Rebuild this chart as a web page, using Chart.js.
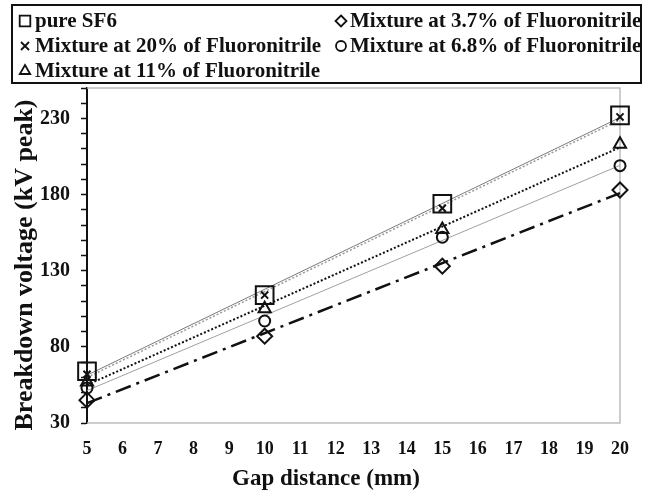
<!DOCTYPE html>
<html>
<head>
<meta charset="utf-8">
<script src="https://cdn.jsdelivr.net/npm/chart.js@4/dist/chart.umd.min.js"></script>
<style>
    html, body { margin: 0; padding: 0; background: #fff; }
    #wrap { width: 645px; height: 495px; }
</style>
</head>
<body>
<div id="wrap"><canvas id="breakdownChart" width="645" height="495"></canvas></div>
<script>
// Gap distances (mm)
const gaps = [5, 10, 15, 20];

// Breakdown voltage (kV peak) per gas
const pureSF6 = [64, 114, 174, 232];
const mix37 = [45, 87, 133, 183];
const mix20 = [62, 114, 171, 231];
const mix68 = [53, 97, 152, 199];
const mix11 = [57, 105, 157, 213];

// Axis ranges / ticks
const xMin = 5, xMax = 20;
const yMin = 30, yMax = 250;
const yLabelStep = 50;

const FONT = "'Liberation Serif', 'Times New Roman', serif";

// Series definitions -> legend order is column-wise (left col then right col)
const series = [
    { label: 'pure SF6', data: pureSF6, style: 'rect', radius: 12.5, legendRadius: 7.5,
      line: { color: '#7a7a7a', width: 1, dash: [] } },
    { label: 'Mixture at 20% of Fluoronitrile', data: mix20, style: 'crossRot', radius: 5, legendRadius: 4,
      line: { color: '#9a9a9a', width: 1.5, dash: [2, 2] } },
    { label: 'Mixture at 11% of Fluoronitrile', data: mix11, style: 'triangle', radius: 7, legendRadius: 6,
      line: { color: '#111', width: 2, dash: [2, 2] } },
    { label: 'Mixture at 3.7% of Fluoronitrile', data: mix37, style: 'rectRot', radius: 7.5, legendRadius: 5.5,
      line: { color: '#111', width: 2.5, dash: [16, 6, 3, 6] } },
    { label: 'Mixture at 6.8% of Fluoronitrile', data: mix68, style: 'circle', radius: 5.5, legendRadius: 5,
      line: { color: '#a0a0a0', width: 1, dash: [] } }
];

// Linear trendline (least squares) from a series, evaluated at the x range ends
const trendline = (xs, ys) => {
    const n = xs.length;
    const mx = xs.reduce((a, b) => a + b, 0) / n;
    const my = ys.reduce((a, b) => a + b, 0) / n;
    let sxy = 0, sxx = 0;
    for (let i = 0; i < n; i++) {
        sxy += (xs[i] - mx) * (ys[i] - my);
        sxx += (xs[i] - mx) * (xs[i] - mx);
    }
    const slope = sxy / sxx;
    const at = x => my + slope * (x - mx);
    return [{ x: xMin, y: at(xMin) }, { x: xMax, y: at(xMax) }];
}

const getDatasets = () => {
    let lines = [];
    let markers = [];

    series.forEach(s => {
        lines.push({
            label: s.label + ' (trend)',
            data: trendline(gaps, s.data),
            showLine: true,
            borderColor: s.line.color,
            borderWidth: s.line.width,
            borderDash: s.line.dash,
            pointRadius: 0,
            fill: false,
            clip: false,
            order: 2
        });

        markers.push({
            label: s.label,
            data: gaps.map((g, i) => ({ x: g, y: s.data[i] })),
            showLine: false,
            pointStyle: s.style,
            pointRadius: s.radius,
            pointHoverRadius: s.radius,
            pointBackgroundColor: 'rgba(0,0,0,0)',
            pointBorderColor: '#111',
            pointBorderWidth: 2,
            clip: false,
            order: 1
        });
    });

    return lines.concat(markers);
}

// Small hollow marker for the legend
const drawMarker = (ctx, style, r, x, y) => {
    ctx.beginPath();
    if (style === 'rect') {
        const h = r * Math.SQRT1_2;
        ctx.rect(x - h, y - h, 2 * h, 2 * h);
    } else if (style === 'rectRot') {
        ctx.moveTo(x, y - r);
        ctx.lineTo(x + r, y);
        ctx.lineTo(x, y + r);
        ctx.lineTo(x - r, y);
        ctx.closePath();
    } else if (style === 'circle') {
        ctx.arc(x, y, r, 0, Math.PI * 2);
    } else if (style === 'triangle') {
        ctx.moveTo(x, y - r);
        ctx.lineTo(x + r * 0.866, y + r * 0.5);
        ctx.lineTo(x - r * 0.866, y + r * 0.5);
        ctx.closePath();
    } else if (style === 'crossRot') {
        ctx.moveTo(x - r, y - r);
        ctx.lineTo(x + r, y + r);
        ctx.moveTo(x + r, y - r);
        ctx.lineTo(x - r, y + r);
    }
    ctx.stroke();
}

// Grey frame around the plot area (left side is the black y axis)
const plotFrame = {
    id: 'plotFrame',
    beforeDatasetsDraw(chart) {
        const { ctx, chartArea: a } = chart;
        ctx.save();
        ctx.strokeStyle = '#bdbdbd';
        ctx.lineWidth = 1.5;
        ctx.beginPath();
        ctx.moveTo(a.left, a.top);
        ctx.lineTo(a.right, a.top);
        ctx.lineTo(a.right, a.bottom);
        ctx.lineTo(a.left, a.bottom);
        ctx.stroke();
        ctx.restore();
    }
};

// Boxed legend in two columns plus axis titles
const boxLegend = {
    id: 'boxLegend',
    afterDraw(chart) {
        const ctx = chart.ctx;
        ctx.save();

        ctx.strokeStyle = '#111';
        ctx.lineWidth = 2;
        ctx.strokeRect(12, 5, 629, 78);

        const rows = [21, 46, 71];
        const cols = [{ m: 25, t: 35 }, { m: 341, t: 350 }];
        const slots = [[0, 0], [0, 1], [0, 2], [1, 0], [1, 1]];

        ctx.font = 'bold 21px ' + FONT;
        ctx.fillStyle = '#111';
        ctx.textBaseline = 'middle';
        ctx.textAlign = 'left';

        series.forEach((s, i) => {
            const [c, r] = slots[i];
            const y = rows[r];
            ctx.strokeStyle = '#111';
            ctx.lineWidth = 1.8;
            drawMarker(ctx, s.style, s.legendRadius, cols[c].m, y);
            ctx.fillText(s.label, cols[c].t, y + 1);
        });

        // Axis titles
        ctx.font = 'bold 23px ' + FONT;
        ctx.textAlign = 'center';
        ctx.fillText('Gap distance (mm)', 326, 479);

        ctx.translate(25, 265);
        ctx.rotate(-Math.PI / 2);
        ctx.font = 'bold 26px ' + FONT;
        ctx.fillText('Breakdown voltage (kV peak)', 0, 0);

        ctx.restore();
    }
};

const createBreakdownChart = () => {
    const ctx = document.getElementById('breakdownChart').getContext('2d');

    new Chart(ctx, {
        type: 'scatter',
        data: { datasets: getDatasets() },
        plugins: [plotFrame, boxLegend],
        options: {
            responsive: false,
            animation: false,
            devicePixelRatio: 1,
            layout: { padding: { top: 88, right: 15, left: 0, bottom: 0 } },
            plugins: {
                legend: { display: false },
                tooltip: { enabled: false },
                title: { display: false }
            },
            scales: {
                x: {
                    type: 'linear',
                    min: xMin,
                    max: xMax,
                    afterFit: scale => { scale.height = 72; },
                    ticks: {
                        stepSize: 1,
                        autoSkip: false,
                        maxRotation: 0,
                        padding: 16,
                        color: '#111',
                        font: { family: FONT, size: 18, weight: 'bold' }
                    },
                    grid: { display: false, drawTicks: false },
                    border: { display: false }
                },
                y: {
                    min: yMin,
                    max: yMax,
                    afterFit: scale => { scale.width = 87; },
                    ticks: {
                        stepSize: 10,
                        autoSkip: false,
                        padding: 11,
                        color: '#111',
                        font: { family: FONT, size: 20, weight: 'bold' },
                        callback: v => ((v - yMin) % yLabelStep === 0 && v <= 230) ? v : ''
                    },
                    grid: {
                        drawOnChartArea: false,
                        drawTicks: true,
                        tickLength: 6,
                        tickColor: '#111',
                        tickWidth: 1.5
                    },
                    border: { display: true, color: '#111', width: 2 }
                }
            }
        }
    });
}

createBreakdownChart();
</script>
</body>
</html>
